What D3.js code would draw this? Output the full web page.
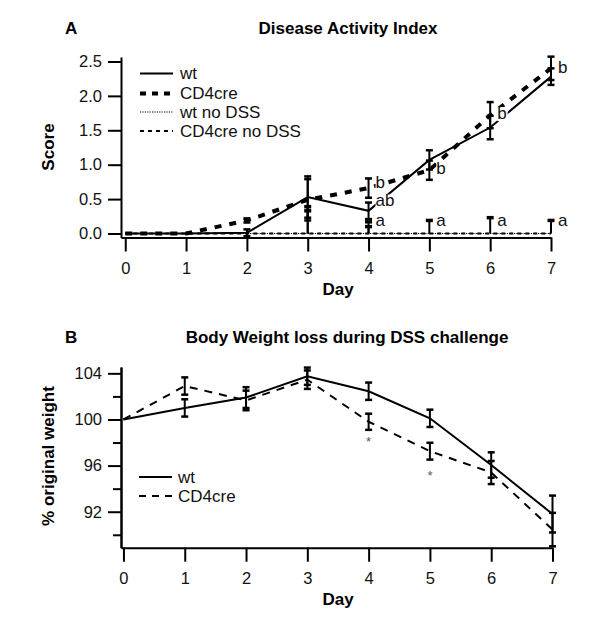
<!DOCTYPE html>
<html>
<head>
<meta charset="utf-8">
<script src="https://cdn.jsdelivr.net/npm/d3@7"></script>
<style>
  body { margin: 0; background: #fff; }
  svg { display: block; font-family: "Liberation Sans", Arial, sans-serif; }
</style>
</head>
<body>
<div id="chart"></div>
<script>
var days = [0, 1, 2, 3, 4, 5, 6, 7];

// panel A - disease activity score
var scoreWt = [0, 0, 0.01, 0.53, 0.33, 1.07, 1.54, 2.28];
var scoreWtErr = [0, 0, 0.05, 0.30, 0.12, 0.14, 0.17, 0.12];
var scoreCd4 = [0, 0, 0.19, 0.49, 0.66, 0.92, 1.72, 2.40];
var scoreCd4Err = [0, 0, 0.03, 0.30, 0.14, 0.14, 0.19, 0.17];
var scoreWtNoDss = [0, 0, 0, 0, 0, 0, 0, 0];
var scoreWtNoDssErr = [0, 0, 0, 0.33, 0.10, 0, 0, 0];
var scoreCd4NoDss = [0, 0, 0, 0, 0, 0, 0, 0];
var scoreCd4NoDssErr = [0, 0, 0, 0.39, 0.17, 0.19, 0.23, 0.19];
var scoreTicks = [0, 0.5, 1.0, 1.5, 2.0, 2.5];
var letterDays = [4, 4, 4, 5, 5, 6, 6, 7, 7];
var letterText = ["b", "ab", "a", "b", "a", "b", "a", "b", "a"];
var letterValues = [0.75, 0.48, 0.19, 0.95, 0.19, 1.75, 0.19, 2.42, 0.19];

// panel B - body weight
var weightWt = [100, 101.0, 101.9, 103.75, 102.45, 100.1, 96.05, 91.8];
var weightWtErr = [0, 0.75, 0.9, 0.75, 0.75, 0.75, 1.1, 1.6];
var weightCd4 = [100, 102.9, 101.65, 103.45, 99.8, 97.25, 95.4, 90.45];
var weightCd4Err = [0, 0.75, 0.85, 0.8, 0.7, 0.73, 1.0, 1.45];
var weightTicks = [92, 96, 100, 104];
var weightMinorTicks = [90, 94, 98, 102];
var starDays = [4, 5];
var starValues = [98.3, 95.35];

var svg = d3.select("#chart").append("svg")
    .attr("width", 600)
    .attr("height", 619);

function pts(vals, errs) {
    return days.map(function(d, i) { return { day: d, v: vals[i], e: errs ? errs[i] : 0 }; });
}

function styleAxis(g, size) {
    g.select(".domain").attr("stroke", "#000").attr("stroke-width", 2);
    g.selectAll(".tick line").attr("stroke", "#000").attr("stroke-width", 2);
    g.selectAll(".tick text").attr("font-size", size).attr("fill", "#111")
        .attr("font-family", "Liberation Sans, Arial, sans-serif");
}

// upOnly: bar drawn from the mean upward only (used for the no DSS groups)
function errorBars(g, x, y, data, cap, upOnly) {
    var bars = g.selectAll(null).data(data.filter(function(d) { return d.e > 0; })).enter();
    bars.append("line")
        .attr("x1", function(d) { return x(d.day); })
        .attr("x2", function(d) { return x(d.day); })
        .attr("y1", function(d) { return y(upOnly ? d.v : d.v - d.e); })
        .attr("y2", function(d) { return y(d.v + d.e); })
        .attr("stroke", "#000").attr("stroke-width", 2);
    (upOnly ? [1] : [-1, 1]).forEach(function(s) {
        bars.append("line")
            .attr("x1", function(d) { return x(d.day) - cap; })
            .attr("x2", function(d) { return x(d.day) + cap; })
            .attr("y1", function(d) { return y(d.v + s * d.e); })
            .attr("y2", function(d) { return y(d.v + s * d.e); })
            .attr("stroke", "#000").attr("stroke-width", upOnly ? 3.5 : 2.5);
    });
}

// ---------- Panel A ----------
var xA = d3.scaleLinear().domain([-0.07, 7]).range([121, 551]);
var yA = d3.scaleLinear().domain([-0.058, 2.565]).range([237.5, 57]);

var gA = svg.append("g");

gA.append("text").attr("x", 65).attr("y", 34).attr("font-size", 17).attr("font-weight", "bold").text("A");
gA.append("text").attr("x", 348).attr("y", 34).attr("text-anchor", "middle")
    .attr("font-size", 17).attr("font-weight", "bold").text("Disease Activity Index");

var axA = gA.append("g").attr("transform", "translate(0,237.5)")
    .call(d3.axisBottom(xA).tickValues(days).tickSize(14).tickSizeOuter(0).tickPadding(11).tickFormat(d3.format("d")));
styleAxis(axA, 16.5);
var ayA = gA.append("g").attr("transform", "translate(121,0)")
    .call(d3.axisLeft(yA).tickValues(scoreTicks).tickSize(13).tickSizeOuter(0).tickPadding(6).tickFormat(d3.format(".1f")));
styleAxis(ayA, 16.5);

gA.append("text").attr("transform", "translate(54,147) rotate(-90)").attr("text-anchor", "middle")
    .attr("font-size", 17).attr("font-weight", "bold").text("Score");
gA.append("text").attr("x", 338).attr("y", 295).attr("text-anchor", "middle")
    .attr("font-size", 17).attr("font-weight", "bold").text("Day");

var lineA = d3.line().x(function(d) { return xA(d.day); }).y(function(d) { return yA(d.v); });

var seriesA = [
    { name: "wt", data: pts(scoreWt, scoreWtErr), width: 2, dash: null, up: false },
    { name: "CD4cre", data: pts(scoreCd4, scoreCd4Err), width: 4, dash: "7,8", up: false },
    { name: "wt no DSS", data: pts(scoreWtNoDss, scoreWtNoDssErr), width: 1.2, dash: "1.2,1.2", up: true },
    { name: "CD4cre no DSS", data: pts(scoreCd4NoDss, scoreCd4NoDssErr), width: 2, dash: "4,4", up: true }
];

seriesA.slice().reverse().forEach(function(s) {
    gA.append("path").datum(s.data).attr("d", lineA)
        .attr("fill", "none").attr("stroke", "#000")
        .attr("stroke-width", s.width).attr("stroke-dasharray", s.dash);
});

// letter labels sit on white boxes that hide the lines below them
var letters = letterDays.map(function(d, i) { return { day: d, t: letterText[i], v: letterValues[i] }; });
var lg = gA.append("g");
var lt = lg.selectAll("text").data(letters).enter().append("text")
    .attr("x", function(d) { return xA(d.day) + 7; })
    .attr("y", function(d) { return yA(d.v) + 6; })
    .attr("font-size", 17).attr("fill", "#111")
    .text(function(d) { return d.t; });
lt.each(function() {
    var b = this.getBBox();
    lg.insert("rect", "text").attr("x", b.x).attr("y", b.y + 3).attr("width", b.width + 1).attr("height", b.height - 5).attr("fill", "#fff");
});

seriesA.forEach(function(s) { errorBars(gA, xA, yA, s.data, 3.5, s.up); });
lg.raise();
gA.selectAll("text").raise();

var legA = gA.append("g").selectAll("g").data(seriesA).enter().append("g")
    .attr("transform", function(d, i) { return "translate(140," + [73.5, 93.5, 112, 131][i] + ")"; });
legA.append("line").attr("x1", 0).attr("x2", 33)
    .attr("stroke", "#000")
    .attr("stroke-width", function(d) { return d.width; })
    .attr("stroke-dasharray", function(d) { return d.name === "CD4cre" ? "6,6" : d.dash; });
legA.append("text").attr("x", 40).attr("dy", "0.35em").attr("font-size", 17).attr("fill", "#111")
    .text(function(d) { return d.name; });

// ---------- Panel B ----------
var xB = d3.scaleLinear().domain([-0.04, 7]).range([121, 552.5]);
var yB = d3.scaleLinear().domain([88.88, 104.55]).range([547.7, 367]);

var gB = svg.append("g");

gB.append("text").attr("x", 65).attr("y", 343).attr("font-size", 17).attr("font-weight", "bold").text("B");
gB.append("text").attr("x", 347).attr("y", 343).attr("text-anchor", "middle")
    .attr("font-size", 17).attr("font-weight", "bold").text("Body Weight loss during DSS challenge");

var axB = gB.append("g").attr("transform", "translate(0,547.7)")
    .call(d3.axisBottom(xB).tickValues(days).tickSize(14).tickSizeOuter(0).tickPadding(11).tickFormat(d3.format("d")));
styleAxis(axB, 16.5);
var ayBminor = gB.append("g").attr("transform", "translate(121,0)")
    .call(d3.axisLeft(yB).tickValues(weightMinorTicks).tickSize(8).tickSizeOuter(0).tickFormat(""));
styleAxis(ayBminor, 16.5);
var ayB = gB.append("g").attr("transform", "translate(121,0)")
    .call(d3.axisLeft(yB).tickValues(weightTicks).tickSize(13).tickSizeOuter(0).tickPadding(6).tickFormat(d3.format("d")));
styleAxis(ayB, 16.5);

gB.append("text").attr("transform", "translate(54,456) rotate(-90)").attr("text-anchor", "middle")
    .attr("font-size", 17).attr("font-weight", "bold").text("% original weight");
gB.append("text").attr("x", 338).attr("y", 605).attr("text-anchor", "middle")
    .attr("font-size", 17).attr("font-weight", "bold").text("Day");

var lineB = d3.line().x(function(d) { return xB(d.day); }).y(function(d) { return yB(d.v); });

var seriesB = [
    { name: "wt", data: pts(weightWt, weightWtErr), dash: null },
    { name: "CD4cre", data: pts(weightCd4, weightCd4Err), dash: "8,7" }
];
seriesB.forEach(function(s) {
    gB.append("path").datum(s.data).attr("d", lineB)
        .attr("fill", "none").attr("stroke", "#000")
        .attr("stroke-width", 2).attr("stroke-dasharray", s.dash);
    errorBars(gB, xB, yB, s.data, 3.5, false);
});

gB.selectAll(".star").data(starDays).enter().append("text")
    .attr("class", "star")
    .attr("x", function(d) { return xB(d); })
    .attr("y", function(d, i) { return yB(starValues[i]) + 7; })
    .attr("text-anchor", "middle").attr("font-size", 13).attr("fill", "#555")
    .text("*");

var legB = gB.append("g").selectAll("g").data(seriesB).enter().append("g")
    .attr("transform", function(d, i) { return "translate(139," + [477, 496][i] + ")"; });
legB.append("line").attr("x1", 0).attr("x2", 33)
    .attr("stroke", "#000").attr("stroke-width", 2)
    .attr("stroke-dasharray", function(d) { return d.dash ? "7,6" : null; });
legB.append("text").attr("x", 39).attr("dy", "0.35em").attr("font-size", 17).attr("fill", "#111")
    .text(function(d) { return d.name; });
</script>
</body>
</html>
